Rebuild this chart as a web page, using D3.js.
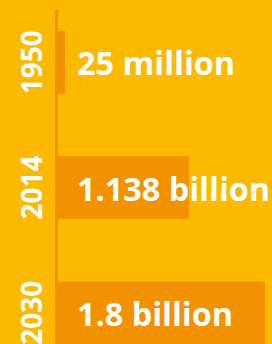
<!DOCTYPE html>
<html>
<head>
<meta charset="utf-8">
<script src="https://cdn.jsdelivr.net/npm/d3@7"></script>
<style>
  html, body { margin: 0; padding: 0; background: #FBB900; overflow: hidden; }
  svg { display: block; }
</style>
</head>
<body>
<div id="chart"></div>
<script>
// data
const years = ["1950", "2014", "2030"];
const values = [0.025, 1.138, 1.8];   // billions
const labels = ["25 million", "1.138 billion", "1.8 billion"];

const width = 272, height = 344;
const barColor = "#F39200";

const svg = d3.select("#chart")
  .append("svg")
  .attr("width", width)
  .attr("height", height);

svg.append("rect")
  .attr("width", width)
  .attr("height", height)
  .attr("fill", "#FBB900");

const y = d3.scaleBand()
  .domain(years)
  .range([31, 344])
  .paddingInner(0.5)
  .paddingOuter(0);

const x = d3.scaleLinear()
  .domain([0, 1.8])
  .range([58, 265]);

// bars (tiny value gets a minimum width so it stays visible)
svg.selectAll("rect.bar")
  .data(years)
  .enter()
  .append("rect")
  .attr("class", "bar")
  .attr("x", x(0))
  .attr("y", d => y(d))
  .attr("width", (d, i) => Math.max(7, x(values[i]) - x(0)))
  .attr("height", y.bandwidth())
  .attr("fill", barColor);

// axis line
svg.append("line")
  .attr("x1", x(0) - 1.5)
  .attr("x2", x(0) - 1.5)
  .attr("y1", 9.5)
  .attr("y2", height)
  .attr("stroke", barColor)
  .attr("stroke-width", 3);

// year labels, rotated
svg.selectAll("text.year")
  .data(years)
  .enter()
  .append("text")
  .attr("class", "year")
  .attr("transform", d => "translate(42.3," + (y(d) + y.bandwidth() / 2) + ") rotate(-90)")
  .attr("text-anchor", "middle")
  .attr("fill", "#fff")
  .style("font-family", "'Liberation Sans Narrow', 'Open Sans', sans-serif")
  .style("font-weight", "bold")
  .style("font-size", "28px")
  .text(d => d);

// value labels
svg.selectAll("text.value")
  .data(years)
  .enter()
  .append("text")
  .attr("class", "value")
  .attr("x", 77)
  .attr("y", d => y(d) + y.bandwidth() / 2 + 13)
  .attr("fill", "#fff")
  .style("font-family", "'Open Sans', sans-serif")
  .style("font-weight", "bold")
  .style("font-size", "32.4px")
  .text((d, i) => labels[i]);
</script>
</body>
</html>
